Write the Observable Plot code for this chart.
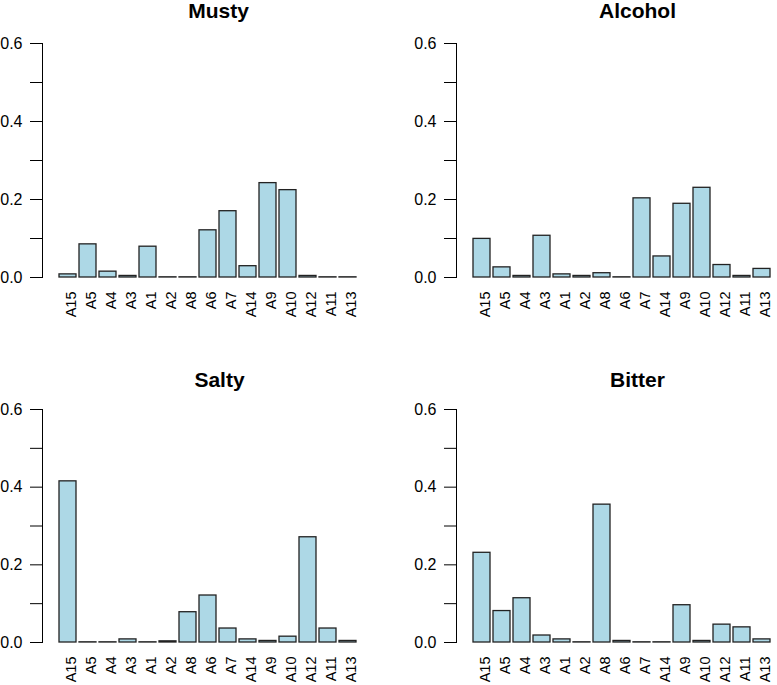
<!DOCTYPE html>
<html>
<head>
<meta charset="utf-8">
<script src="https://cdn.jsdelivr.net/npm/d3@7"></script>
<script src="https://cdn.jsdelivr.net/npm/@observablehq/plot@0.6"></script>
<style>
  html, body { margin: 0; padding: 0; background: #ffffff; }
  #wrap { position: relative; width: 777px; height: 685px; overflow: hidden; background: #ffffff; }
  .panel { position: absolute; }
</style>
</head>
<body>
<div id="wrap"></div>
<script>
// ---- data ----
const attributes = ["A15","A5","A4","A3","A1","A2","A8","A6","A7","A14","A9","A10","A12","A11","A13"];
const musty   = [0.008, 0.085, 0.015, 0.004, 0.079, 0.0005, 0.0005, 0.121, 0.170, 0.029, 0.242, 0.224, 0.004, 0.0005, 0.0005];
const alcohol = [0.099, 0.026, 0.004, 0.107, 0.008, 0.004, 0.011, 0.0005, 0.203, 0.054, 0.189, 0.230, 0.032, 0.004, 0.022];
const salty   = [0.415, 0.0005, 0.0005, 0.008, 0.0005, 0.003, 0.078, 0.121, 0.036, 0.008, 0.004, 0.015, 0.271, 0.036, 0.004];
const bitter  = [0.231, 0.081, 0.114, 0.018, 0.008, 0.0005, 0.355, 0.004, 0.0005, 0.0005, 0.096, 0.004, 0.046, 0.039, 0.008];
const panelTitles = ["Musty", "Alcohol", "Salty", "Bitter"];
const yTicks = [0, 0.1, 0.2, 0.3, 0.4, 0.5, 0.6];
const yTickLabels = ["0.0", "", "0.2", "", "0.4", "", "0.6"];

// ---- layout ----
const seriesList = [musty, alcohol, salty, bitter];
const layout = [
  {left: 0,   top: 0,   width: 388, height: 340, mL: 42, mR: 16, mT: 43, mB: 63, tdx: 11, tdy: -26},
  {left: 388, top: 0,   width: 400, height: 340, mL: 68, mR: 2,  mT: 43, mB: 63, tdx: 16, tdy: -26},
  {left: 0,   top: 340, width: 388, height: 345, mL: 42, mR: 16, mT: 69, mB: 43, tdx: 12, tdy: -23},
  {left: 388, top: 340, width: 400, height: 345, mL: 68, mR: 2,  mT: 69, mB: 43, tdx: 16, tdy: -23}
];

const FONT = "'Liberation Sans', Arial, Helvetica, sans-serif";
const wrap = document.getElementById("wrap");

layout.forEach((L, i) => {
  const values = seriesList[i];
  const rows = attributes.map((a, j) => ({attr: a, value: values[j]}));
  const chart = Plot.plot({
    width: L.width,
    height: L.height,
    marginLeft: L.mL,
    marginRight: L.mR,
    marginTop: L.mT,
    marginBottom: L.mB,
    style: {fontFamily: FONT, fontSize: "16px", color: "#000", background: "transparent", overflow: "visible"},
    x: {type: "band", domain: attributes, paddingInner: 1/6, paddingOuter: 0.593, align: 0.5, axis: null},
    y: {
      domain: [0, 0.6],
      ticks: yTicks,
      tickFormat: (d) => yTickLabels[yTicks.findIndex(t => Math.abs(t - d) < 1e-9)],
      tickSize: 12,
      tickPadding: 8,
      line: true,
      label: null
    },
    marks: [
      Plot.barY(rows, {x: "attr", y: "value", fill: "#ADD8E6", stroke: "#222", strokeWidth: 1.3}),
      Plot.text(rows, {
        x: "attr", text: "attr", frameAnchor: "bottom",
        rotate: -90, textAnchor: "end", lineAnchor: "middle",
        dy: 14, dx: 3, fontSize: 14.5, fill: "#000"
      }),
      Plot.text([panelTitles[i]], {
        text: d => d, frameAnchor: "top", lineAnchor: "bottom",
        dx: L.tdx, dy: L.tdy, fontSize: 21, fontWeight: "bold", fill: "#000"
      })
    ]
  });
  chart.classList.add("panel");
  chart.style.left = L.left + "px";
  chart.style.top = L.top + "px";
  wrap.appendChild(chart);
});
</script>
</body>
</html>
